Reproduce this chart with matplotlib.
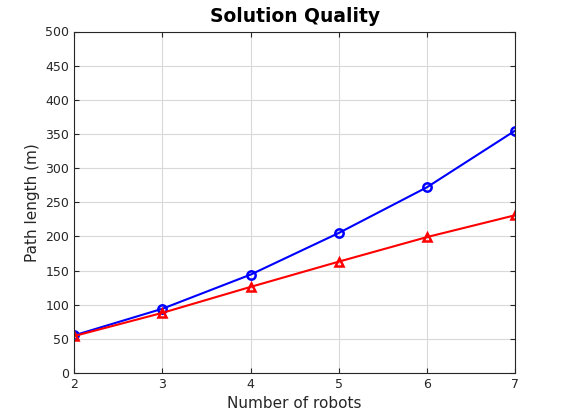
import matplotlib
matplotlib.use("Agg")
from matplotlib import pyplot as plt

robots = [2, 3, 4, 5, 6, 7]
blue_len = [55, 94, 144, 205, 272, 355]
red_len = [54, 88, 126, 163, 199, 231]

fig = plt.figure(figsize=(5.7, 4.2), dpi=100)
ax = fig.add_axes([0.13, 0.112, 0.774, 0.813])

ax.plot(robots, blue_len, '-o', color='blue', lw=1.5, ms=6, mfc='none', mew=1.8)
ax.plot(robots, red_len, '-^', color='red', lw=1.5, ms=6, mfc='none', mew=1.8)

ax.set_xlim(2, 7)
ax.set_ylim(0, 500)
ax.set_xticks(robots)
ax.set_yticks(range(0, 501, 50))
ax.grid(True, color='#d9d9d9', lw=0.8)
ax.set_axisbelow(True)
ax.tick_params(direction='in', top=True, right=True, labelsize=9, colors='#262626', length=3.5)
for s in ax.spines.values():
    s.set_color('#262626')
ax.set_xlabel('Number of robots', fontsize=11, color='#262626')
ax.set_ylabel('Path length (m)', fontsize=11, color='#262626')
ax.set_title('Solution Quality', fontsize=13.5, fontweight='bold', pad=7)

fig.savefig('out.png')
